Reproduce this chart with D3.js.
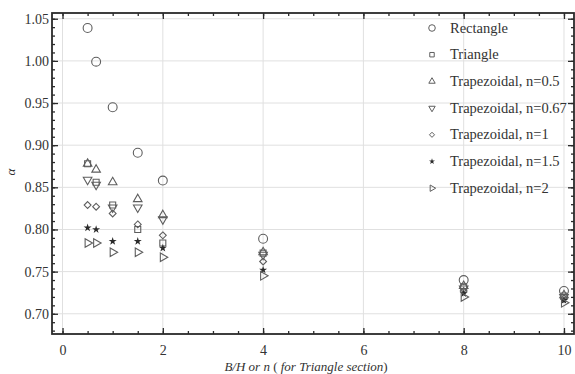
<!DOCTYPE html>
<html>
<head>
<meta charset="utf-8">
<script src="https://cdn.jsdelivr.net/npm/d3@7"></script>
<style>
  body { margin: 0; background: #fff; }
  svg { display: block; }
</style>
</head>
<body>
<svg id="chart" width="575" height="374"></svg>
<script>
// x positions (B/H or n)
const xVals = [0.5, 0.67, 1, 1.5, 2, 4, 8, 10];

// alpha values
const rectangle = [1.039, 0.999, 0.945, 0.891, 0.858, 0.789, 0.740, 0.727];
const triangle  = [0.878, 0.856, 0.829, 0.800, 0.784, 0.772, 0.732, 0.721];
const trap05    = [0.878, 0.871, 0.856, 0.836, 0.817, 0.773, 0.733, 0.722];
const trap067   = [0.859, 0.853, 0.826, 0.826, 0.812, 0.770, 0.730, 0.720];
const trap1     = [0.829, 0.827, 0.819, 0.806, 0.793, 0.762, 0.727, 0.718];
const trap15    = [0.802, 0.800, 0.786, 0.786, 0.778, 0.752, 0.724, 0.716];
const trap2     = [0.784, 0.784, 0.773, 0.773, 0.767, 0.745, 0.720, 0.713];

const seriesNames = ["Rectangle", "Triangle", "Trapezoidal, n=0.5", "Trapezoidal, n=0.67",
  "Trapezoidal, n=1", "Trapezoidal, n=1.5", "Trapezoidal, n=2"];
const seriesValues = [rectangle, triangle, trap05, trap067, trap1, trap15, trap2];

const xMajor = [0, 2, 4, 6, 8, 10];
const yMajor = [0.70, 0.75, 0.80, 0.85, 0.90, 0.95, 1.00, 1.05];

const FONT = "'Liberation Serif', 'DejaVu Serif', serif";
const pLeft = 52, pRight = 574, pTop = 13, pBottom = 334;
const svg = d3.select("#chart");

const x = d3.scaleLinear().domain([-0.21, 10.2]).range([pLeft, pRight]);
const y = d3.scaleLinear().domain([0.676, 1.0568]).range([pBottom, pTop]);

const xMinor = d3.range(0, 10.01, 0.5);
const yMinor = d3.range(68, 106).map(d => d / 100);

// grid
svg.append("g").selectAll("line").data(xMajor).join("line")
  .attr("x1", d => x(d)).attr("x2", d => x(d))
  .attr("y1", pTop).attr("y2", pBottom)
  .attr("stroke", "#e0e0e0").attr("stroke-width", 1);
svg.append("g").selectAll("line").data(yMajor).join("line")
  .attr("x1", pLeft).attr("x2", pRight)
  .attr("y1", d => y(d)).attr("y2", d => y(d))
  .attr("stroke", "#e0e0e0").attr("stroke-width", 1);

// ticks, all pointing inward
function ticks(axisFn, scale, vals, size, pos, labels, fmt) {
  const g = svg.append("g").attr("transform", pos)
    .call(axisFn(scale).tickValues(vals).tickSizeInner(size).tickSizeOuter(0)
      .tickPadding(labels ? 11 : 0).tickFormat(labels ? fmt : ""));
  g.attr("font-family", FONT).attr("font-size", 14);
  g.select(".domain").remove();
  g.selectAll("line").attr("stroke", "#2a2a2a").attr("stroke-width", 1.3);
  g.selectAll("text").attr("fill", "#333");
  return g;
}
ticks(d3.axisBottom, x, xMinor, -3, `translate(0,${pBottom})`, false);
ticks(d3.axisBottom, x, xMajor, -6, `translate(0,${pBottom})`, true, d3.format("d"));
ticks(d3.axisTop, x, xMinor, -3, `translate(0,${pTop})`, false);
ticks(d3.axisTop, x, xMajor, -6, `translate(0,${pTop})`, false);
ticks(d3.axisLeft, y, yMinor, -3, `translate(${pLeft},0)`, false);
const yl = ticks(d3.axisLeft, y, yMajor, -6, `translate(${pLeft},0)`, true, d3.format(".2f"));
yl.selectAll("text").attr("x", -3);
ticks(d3.axisRight, y, yMinor, -3, `translate(${pRight},0)`, false);
ticks(d3.axisRight, y, yMajor, -6, `translate(${pRight},0)`, false);

// frame
svg.append("rect").attr("x", pLeft).attr("y", pTop)
  .attr("width", pRight - pLeft).attr("height", pBottom - pTop)
  .attr("fill", "none").attr("stroke", "#2a2a2a").attr("stroke-width", 1.8);

// markers
const markers = [
  { type: d3.symbolCircle, size: 62, rot: 0, fill: false },
  { type: d3.symbolSquare, size: 36, rot: 0, fill: false },
  { type: d3.symbolTriangle, size: 32, rot: 0, fill: false },
  { type: d3.symbolTriangle, size: 32, rot: 180, fill: false },
  { type: d3.symbolDiamond2, size: 30, rot: 0, fill: false },
  { type: d3.symbolStar, size: 20, rot: 0, fill: true },
  { type: d3.symbolTriangle, size: 32, rot: 90, fill: false }
];
const mColor = "#5e5e5e";

seriesValues.forEach((vals, i) => {
  const m = markers[i];
  svg.append("g").selectAll("path").data(vals).join("path")
    .attr("d", d3.symbol().type(m.type).size(m.size))
    .attr("transform", (d, j) => `translate(${x(xVals[j])},${y(d)}) rotate(${m.rot})`)
    .attr("fill", m.fill ? "#2a2a2a" : "none")
    .attr("stroke", m.fill ? "none" : mColor)
    .attr("stroke-width", 1.1);
});

// legend
const leg = svg.append("g").attr("font-family", FONT).attr("font-size", 14.5);
seriesNames.forEach((name, i) => {
  const m = markers[i];
  const ly = 28 + i * 26.7;
  leg.append("path")
    .attr("d", d3.symbol().type(m.type).size(m.size * 0.55))
    .attr("transform", `translate(432,${ly}) rotate(${m.rot})`)
    .attr("fill", m.fill ? "#2a2a2a" : "none")
    .attr("stroke", m.fill ? "none" : mColor)
    .attr("stroke-width", 1);
  leg.append("text").attr("x", 450).attr("y", ly + 4.5)
    .attr("fill", "#333").text(name);
});

// axis labels
const xl = svg.append("text").attr("x", 306).attr("y", 371)
  .attr("text-anchor", "middle").attr("font-family", FONT).attr("font-size", 13)
  .attr("fill", "#333");
xl.append("tspan").attr("font-style", "italic").text("B/H or n ");
xl.append("tspan").text("( ");
xl.append("tspan").attr("font-style", "italic").text("for Triangle section");
xl.append("tspan").text(")");

svg.append("text")
  .attr("transform", "translate(15,172) rotate(-90)")
  .attr("text-anchor", "middle").attr("font-family", FONT).attr("font-size", 13)
  .attr("font-style", "italic").attr("fill", "#333")
  .text("α");
</script>
</body>
</html>
